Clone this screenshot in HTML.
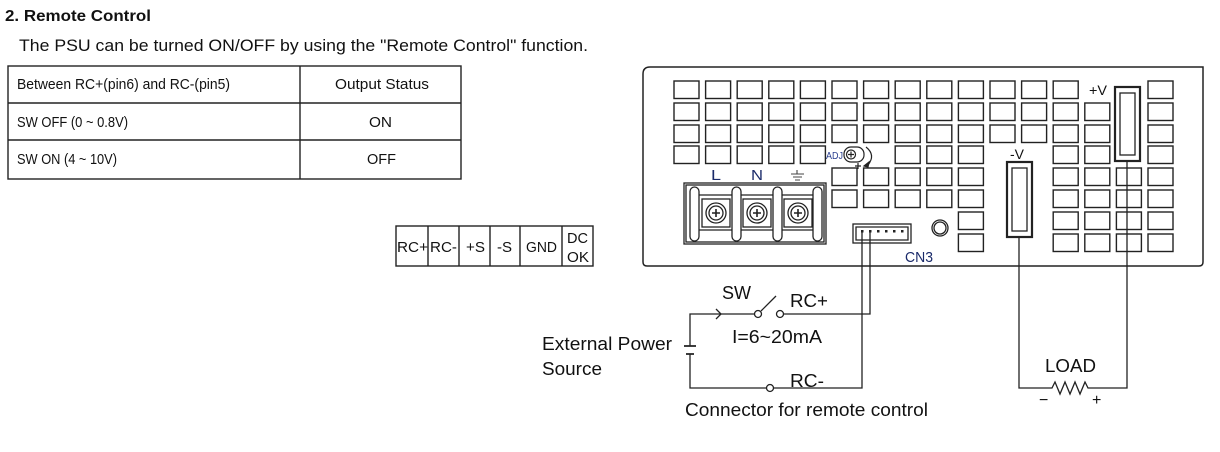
<!DOCTYPE html>
<html><head><meta charset="utf-8"><style>
html,body{margin:0;padding:0;background:#fff;}
svg{display:block;font-family:"Liberation Sans",sans-serif;}
text{fill:#111;}
</style></head><body>
<svg width="1220" height="452" viewBox="0 0 1220 452" xmlns="http://www.w3.org/2000/svg">
<defs>
<rect id="b" width="25" height="17.5" fill="none" stroke="#222" stroke-width="1.4"/>
<g id="scr"><rect x="-14" y="-14" width="28" height="28" fill="none" stroke="#222" stroke-width="1.3"/><circle r="10" fill="none" stroke="#222" stroke-width="1.3"/><circle r="7" fill="none" stroke="#222" stroke-width="1.3"/><path d="M-4 0H4M0 -4V4" stroke="#222" stroke-width="1.6"/></g>
</defs>
<text x="5" y="21" font-size="16" font-weight="bold" textLength="146" lengthAdjust="spacingAndGlyphs">2. Remote Control</text>
<text x="19" y="51" font-size="17" textLength="569" lengthAdjust="spacingAndGlyphs">The PSU can be turned ON/OFF by using the "Remote Control" function.</text>
<g stroke="#222" stroke-width="1.4" fill="none">
<rect x="8" y="66" width="453" height="113"/>
<line x1="8" y1="103" x2="461" y2="103"/><line x1="8" y1="140" x2="461" y2="140"/>
<line x1="300" y1="66" x2="300" y2="179"/>
</g>
<g font-size="15">
<text x="17" y="89" textLength="213" lengthAdjust="spacingAndGlyphs">Between RC+(pin6) and RC-(pin5)</text>
<text x="335" y="89" textLength="94" lengthAdjust="spacingAndGlyphs">Output Status</text>
<text x="17" y="127" textLength="111" lengthAdjust="spacingAndGlyphs">SW OFF (0 ~ 0.8V)</text>
<text x="369" y="127" textLength="23" lengthAdjust="spacingAndGlyphs">ON</text>
<text x="17" y="164" textLength="100" lengthAdjust="spacingAndGlyphs">SW ON (4 ~ 10V)</text>
<text x="367" y="164" textLength="29" lengthAdjust="spacingAndGlyphs">OFF</text>
</g>
<g stroke="#222" stroke-width="1.4" fill="none">
<rect x="396" y="226" width="197" height="40"/>
<line x1="428" y1="226" x2="428" y2="266"/><line x1="459" y1="226" x2="459" y2="266"/>
<line x1="490" y1="226" x2="490" y2="266"/><line x1="520" y1="226" x2="520" y2="266"/>
<line x1="562" y1="226" x2="562" y2="266"/>
</g>
<g font-size="15">
<text x="397" y="252" textLength="31" lengthAdjust="spacingAndGlyphs">RC+</text>
<text x="430" y="252" textLength="27" lengthAdjust="spacingAndGlyphs">RC-</text>
<text x="466" y="252" textLength="19" lengthAdjust="spacingAndGlyphs">+S</text>
<text x="497" y="252" textLength="15" lengthAdjust="spacingAndGlyphs">-S</text>
<text x="526" y="252" textLength="31" lengthAdjust="spacingAndGlyphs">GND</text>
<text x="567" y="243" textLength="21" lengthAdjust="spacingAndGlyphs">DC</text>
<text x="567" y="262" textLength="22" lengthAdjust="spacingAndGlyphs">OK</text>
</g>
<!-- PSU -->
<path d="M650 67H1203V262Q1203 266 1199 266H647Q643 266 643 262V74Q643 67 650 67Z" fill="none" stroke="#222" stroke-width="1.5"/>
<g>
<use href="#b" x="674" y="81"/><use href="#b" x="705.6" y="81"/><use href="#b" x="737.2" y="81"/><use href="#b" x="768.8" y="81"/><use href="#b" x="800.4" y="81"/><use href="#b" x="832" y="81"/><use href="#b" x="863.6" y="81"/><use href="#b" x="895.2" y="81"/><use href="#b" x="926.8" y="81"/><use href="#b" x="958.4" y="81"/><use href="#b" x="990" y="81"/><use href="#b" x="1021.6" y="81"/><use href="#b" x="1053.2" y="81"/><use href="#b" x="1148" y="81"/>
<use href="#b" x="674" y="103"/><use href="#b" x="705.6" y="103"/><use href="#b" x="737.2" y="103"/><use href="#b" x="768.8" y="103"/><use href="#b" x="800.4" y="103"/><use href="#b" x="832" y="103"/><use href="#b" x="863.6" y="103"/><use href="#b" x="895.2" y="103"/><use href="#b" x="926.8" y="103"/><use href="#b" x="958.4" y="103"/><use href="#b" x="990" y="103"/><use href="#b" x="1021.6" y="103"/><use href="#b" x="1053.2" y="103"/><use href="#b" x="1084.8" y="103"/><use href="#b" x="1148" y="103"/>
<use href="#b" x="674" y="125"/><use href="#b" x="705.6" y="125"/><use href="#b" x="737.2" y="125"/><use href="#b" x="768.8" y="125"/><use href="#b" x="800.4" y="125"/><use href="#b" x="832" y="125"/><use href="#b" x="863.6" y="125"/><use href="#b" x="895.2" y="125"/><use href="#b" x="926.8" y="125"/><use href="#b" x="958.4" y="125"/><use href="#b" x="990" y="125"/><use href="#b" x="1021.6" y="125"/><use href="#b" x="1053.2" y="125"/><use href="#b" x="1084.8" y="125"/><use href="#b" x="1148" y="125"/>
<use href="#b" x="674" y="146"/><use href="#b" x="705.6" y="146"/><use href="#b" x="737.2" y="146"/><use href="#b" x="768.8" y="146"/><use href="#b" x="800.4" y="146"/><use href="#b" x="895.2" y="146"/><use href="#b" x="926.8" y="146"/><use href="#b" x="958.4" y="146"/><use href="#b" x="1053.2" y="146"/><use href="#b" x="1084.8" y="146"/><use href="#b" x="1148" y="146"/>
<use href="#b" x="832" y="168"/><use href="#b" x="863.6" y="168"/><use href="#b" x="895.2" y="168"/><use href="#b" x="926.8" y="168"/><use href="#b" x="958.4" y="168"/><use href="#b" x="1053.2" y="168"/><use href="#b" x="1084.8" y="168"/><use href="#b" x="1116.4" y="168"/><use href="#b" x="1148" y="168"/>
<use href="#b" x="832" y="190"/><use href="#b" x="863.6" y="190"/><use href="#b" x="895.2" y="190"/><use href="#b" x="926.8" y="190"/><use href="#b" x="958.4" y="190"/><use href="#b" x="1053.2" y="190"/><use href="#b" x="1084.8" y="190"/><use href="#b" x="1116.4" y="190"/><use href="#b" x="1148" y="190"/>
<use href="#b" x="958.4" y="212"/><use href="#b" x="1053.2" y="212"/><use href="#b" x="1084.8" y="212"/><use href="#b" x="1116.4" y="212"/><use href="#b" x="1148" y="212"/>
<use href="#b" x="958.4" y="234"/><use href="#b" x="1053.2" y="234"/><use href="#b" x="1084.8" y="234"/><use href="#b" x="1116.4" y="234"/><use href="#b" x="1148" y="234"/>
</g>
<g fill="none" stroke="#222">
<rect x="1115" y="87" width="25" height="74" stroke-width="2.2"/><rect x="1120" y="93" width="15" height="62" stroke-width="1.3"/>
<rect x="1007" y="162" width="25" height="75" stroke-width="2.2"/><rect x="1012" y="168" width="15" height="63" stroke-width="1.3"/>
</g>
<text x="1089" y="95" font-size="14" textLength="18" lengthAdjust="spacingAndGlyphs">+V</text>
<text x="1010" y="159" font-size="14" textLength="14" lengthAdjust="spacingAndGlyphs">-V</text>
<text x="826" y="159" font-size="10" textLength="17" lengthAdjust="spacingAndGlyphs" style="fill:#2a3f8f">ADJ</text>
<g fill="none" stroke="#222" stroke-width="1.2">
<rect x="844" y="147" width="20" height="15" rx="7"/>
<circle cx="851" cy="154.5" r="4.5"/><path d="M848 154.5H854M851 151.5V157.5"/>
<path d="M866 147Q876 155 868 165"/><path d="M864 166L869 162L868 167Z" fill="#222"/>
<path d="M858 163V169M855 166H861"/>
</g>
<text x="711" y="180" font-size="15" textLength="10" lengthAdjust="spacingAndGlyphs" style="fill:#1a2a6a">L</text>
<text x="751" y="180" font-size="15" textLength="12" lengthAdjust="spacingAndGlyphs" style="fill:#1a2a6a">N</text>
<g stroke="#444" stroke-width="1.1"><path d="M797 170V174M791 174H804M793 177H802M795 180H800"/></g>
<g fill="none" stroke="#222" stroke-width="1.3">
<rect x="684" y="183" width="142" height="61"/>
<rect x="686" y="185" width="138" height="57"/>
<rect x="690" y="187" width="9" height="54" rx="4.5"/>
<rect x="732" y="187" width="9" height="54" rx="4.5"/>
<rect x="773" y="187" width="9" height="54" rx="4.5"/>
<rect x="813" y="187" width="9" height="54" rx="4.5"/>
<path d="M699 195H732M741 195H773M782 195H813M699 230H732M741 230H773M782 230H813"/>
</g>
<use href="#scr" x="716" y="213"/><use href="#scr" x="757" y="213"/><use href="#scr" x="798" y="213"/>
<g fill="none" stroke="#222" stroke-width="1.3">
<rect x="853" y="224" width="58" height="19"/>
<path d="M856 227H908V240H856Z"/>
<circle cx="940" cy="228" r="8"/><circle cx="940" cy="228" r="6"/>
</g>
<g fill="#222"><rect x="861" y="230" width="2.5" height="2.5"/><rect x="869" y="230" width="2.5" height="2.5"/><rect x="877" y="230" width="2.5" height="2.5"/><rect x="885" y="230" width="2.5" height="2.5"/><rect x="893" y="230" width="2.5" height="2.5"/><rect x="901" y="230" width="2.5" height="2.5"/></g>
<text x="905" y="262" font-size="15" textLength="28" lengthAdjust="spacingAndGlyphs" style="fill:#1a2a6a">CN3</text>
<g fill="none" stroke="#222" stroke-width="1.3">
<path d="M870 231V314H784"/>
<path d="M862 231V388H774"/>
<path d="M766 388H690V354"/>
<path d="M690 346V314H754"/>
<path d="M684 346H696M686 354H694" stroke-width="1.7"/>
<path d="M716 309L721 314L716 319"/>
<circle cx="758" cy="314" r="3.5"/><circle cx="780" cy="314" r="3.5"/>
<path d="M761 311L776 296"/>
<circle cx="770" cy="388" r="3.5"/>
<path d="M1019 237V388H1052L1055 382L1060 394L1065 382L1070 394L1075 382L1080 394L1085 382L1088 388H1127V161"/>
</g>
<g font-size="18">
<text x="722" y="299" textLength="29" lengthAdjust="spacingAndGlyphs">SW</text>
<text x="790" y="307" textLength="38" lengthAdjust="spacingAndGlyphs">RC+</text>
<text x="732" y="343" textLength="90" lengthAdjust="spacingAndGlyphs">I=6~20mA</text>
<text x="542" y="350" textLength="130" lengthAdjust="spacingAndGlyphs">External Power</text>
<text x="542" y="375" textLength="60" lengthAdjust="spacingAndGlyphs">Source</text>
<text x="790" y="387" textLength="34" lengthAdjust="spacingAndGlyphs">RC-</text>
<text x="685" y="416" textLength="243" lengthAdjust="spacingAndGlyphs">Connector for remote control</text>
<text x="1045" y="372" textLength="51" lengthAdjust="spacingAndGlyphs">LOAD</text>
<text x="1039" y="405" font-size="16">−</text>
<text x="1092" y="405" font-size="16">+</text>
</g>
</svg>
</body></html>
